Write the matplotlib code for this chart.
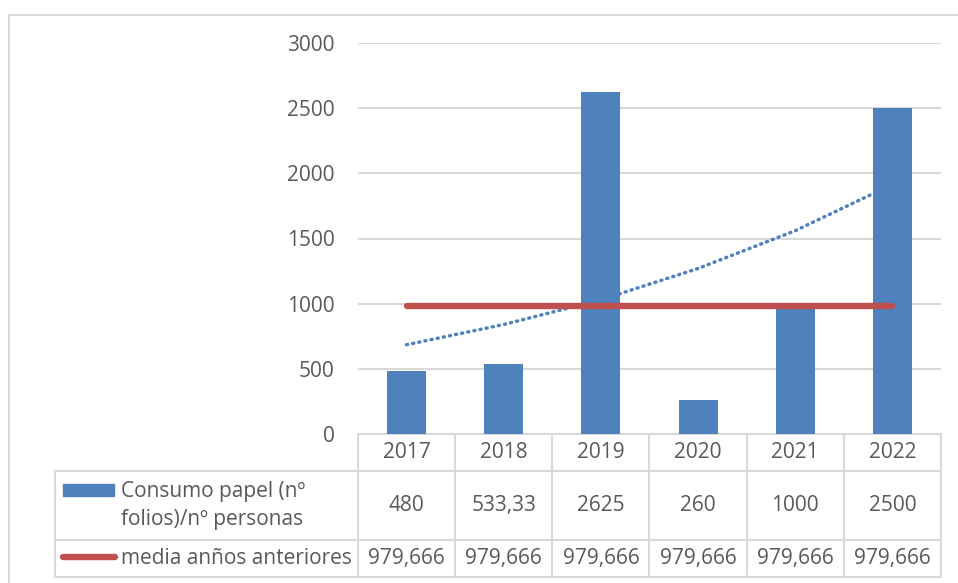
import matplotlib
matplotlib.use('Agg')

import matplotlib.pyplot as plt
from matplotlib.patches import Rectangle

plt.rcParams['font.family'] = ['Open Sans', 'DejaVu Sans']

# datos
years = ['2017', '2018', '2019', '2020', '2021', '2022']
consumo = [480, 533.33, 2625, 260, 1000, 2500]
consumo_txt = ['480', '533,33', '2625', '260', '1000', '2500']
media = [979.666, 979.666, 979.666, 979.666, 979.666, 979.666]
media_txt = ['979,666'] * 6
# linea de tendencia
tendencia = [685, 840, 1030, 1270, 1560, 1915]

BLUE = '#4F81BD'
RED = '#C0504D'
GRID = '#D9D9D9'
TXT = '#595959'

W, H = 958, 583
fig = plt.figure(figsize=(W / 100, H / 100), dpi=100)

# area del grafico en pixeles
x0, x1 = 358, 941
y_top, y_axis = 43, 434

ax = fig.add_axes([x0 / W, (H - y_axis) / H, (x1 - x0) / W, (y_axis - y_top) / H])
xs = list(range(len(years)))
ax.bar(xs, consumo, width=0.4, color=BLUE, zorder=2)
ax.plot(xs, tendencia, color=BLUE, lw=2.5, linestyle=(0, (0.3, 1.5)),
        dash_capstyle='round', zorder=3)
ax.plot(xs, media, color=RED, lw=4.6, solid_capstyle='round', zorder=4)

ax.set_xlim(-0.5, len(years) - 0.5)
ax.set_ylim(0, 3000)
ax.set_yticks(range(0, 3001, 500))
ax.set_xticks([])
ax.grid(axis='y', color=GRID, lw=1.5, zorder=0)
for s in ax.spines.values():
    s.set_visible(False)
ax.tick_params(axis='y', length=0, pad=17, labelsize=15, labelcolor=TXT)

# tabla de datos
axt = fig.add_axes([0, 0, 1, 1], zorder=-1)
axt.set_xlim(0, W)
axt.set_ylim(H, 0)
axt.axis('off')

# borde del area del grafico
axt.plot([9, 9, W], [H, 15, 15], color=GRID, lw=1.4)

colw = (x1 - x0) / len(years)
r0, r1, r2, r3 = y_axis, 471, 540, 577
xl = 55
lkw = dict(color=GRID, lw=1.5)
axt.plot([x0, x1], [r0, r0], **lkw)
for r in (r1, r2, r3):
    axt.plot([xl, x1], [r, r], **lkw)
axt.plot([xl, xl], [r1, r3], **lkw)
for i in range(len(years) + 1):
    xc = x0 + i * colw
    axt.plot([xc, xc], [r0, r3], **lkw)

for i, y in enumerate(years):
    cx = x0 + (i + 0.5) * colw
    axt.text(cx, (r0 + r1) / 2, y, ha='center', va='center', fontsize=15, color=TXT)
    axt.text(cx, (r1 + r2) / 2, consumo_txt[i], ha='center', va='center', fontsize=15, color=TXT)
    axt.text(cx, (r2 + r3) / 2, media_txt[i], ha='center', va='center', fontsize=15, color=TXT)

# leyenda dentro de la tabla
axt.add_patch(Rectangle((63, 484), 51, 12, color=BLUE))
axt.text(121, 491, 'Consumo papel (nº', ha='left', va='center', fontsize=15, color=TXT)
axt.text(121, 520, 'folios)/nº personas', ha='left', va='center', fontsize=15, color=TXT)
axt.plot([63, 115], [557, 557], color=RED, lw=4.6, solid_capstyle='round')
axt.text(121, (r2 + r3) / 2, 'media anños anteriores', ha='left', va='center',
         fontsize=15, color=TXT)

fig.savefig('out.png', dpi=100)
